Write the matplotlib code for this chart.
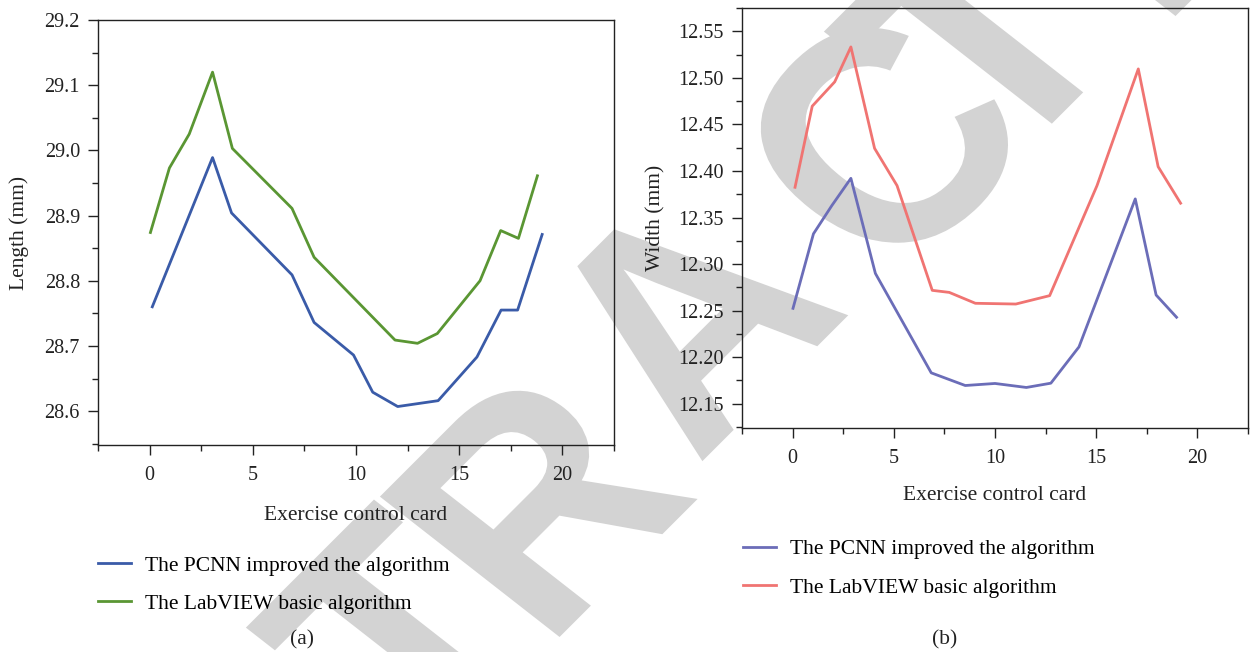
import matplotlib

matplotlib.use("Agg")
import numpy as np
import matplotlib.pyplot as plt
from matplotlib.patheffects import AbstractPathEffect
from matplotlib.ticker import MultipleLocator
from matplotlib.transforms import Affine2D

# (a) length
len_pcnn_x = [0.13, 3.05, 3.97, 6.9, 7.97, 9.88, 10.81, 12.02, 13.98, 15.86, 17.03, 17.83, 19.02]
len_pcnn_y = [28.760, 28.989, 28.904, 28.809, 28.736, 28.686, 28.629, 28.607, 28.616, 28.683, 28.755, 28.755, 28.871]
len_lab_x = [0.04, 0.96, 1.92, 3.05, 4.01, 6.9, 7.97, 11.89, 12.98, 13.94, 16.01, 17.01, 17.87, 18.79]
len_lab_y = [28.874, 28.973, 29.025, 29.120, 29.003, 28.911, 28.836, 28.709, 28.704, 28.719, 28.800, 28.877, 28.865, 28.961]

# (b) width
wid_pcnn_x = [0.02, 1.03, 1.94, 2.88, 4.09, 6.85, 8.53, 10.0, 11.55, 12.76, 14.15, 16.93, 17.96, 18.97]
wid_pcnn_y = [12.2525, 12.3325, 12.3629, 12.3921, 12.2900, 12.1832, 12.1696, 12.1718, 12.1675, 12.1721, 12.2111, 12.3700, 12.2668, 12.2429]
wid_lab_x = [0.12, 0.97, 2.08, 2.88, 4.05, 5.16, 6.9, 7.74, 9.03, 11.03, 12.7, 15.04, 17.08, 18.06, 19.17]
wid_lab_y = [12.3825, 12.4696, 12.4957, 12.5332, 12.4243, 12.3843, 12.2718, 12.2696, 12.2579, 12.2571, 12.2661, 12.3843, 12.5096, 12.4046, 12.3654]

labels = ["The PCNN improved the algorithm", "The LabVIEW basic algorithm"]

# watermark letters that show on the page, and where their middles sit (px from top-left)
mark_letters = ["T", "R", "A", "C", "T", "E"]
mark_centres = [(396, 631), (530, 500), (682, 315), (877, 137), (974, 35), (1140, -115)]

plt.rcParams["font.family"] = ["Liberation Serif", "DejaVu Serif"]

W, H = 1250, 652
fig = plt.figure(figsize=(W / 100, H / 100), dpi=100)


class Slant(AbstractPathEffect):
    """draw the glyphs through a 2x2 matrix about a display point"""

    def __init__(self, mat, x0, y0):
        super().__init__()
        self.mat, self.x0, self.y0 = mat, x0, y0

    def draw_path(self, renderer, gc, tpath, affine, rgbFace=None):
        (a, b), (c, d) = self.mat
        m = Affine2D(np.array([[a, b, 0.0], [c, d, 0.0], [0.0, 0.0, 1.0]]))
        extra = Affine2D().translate(-self.x0, -self.y0) + m + Affine2D().translate(self.x0, self.y0)
        renderer.draw_path(gc, tpath, affine + extra, rgbFace)


fs = 246
cap = 0.716 * fs * 100 / 72
au, av, su, sv = np.deg2rad(45), np.deg2rad(142), 0.9, 0.97
mat = [[su * np.cos(au), sv * np.cos(av)], [su * np.sin(au), sv * np.sin(av)]]
for ch, (cx, cy) in zip(mark_letters, mark_centres):
    ax0 = cx - mat[0][1] * cap / 2
    ay0 = (H - cy) - mat[1][1] * cap / 2
    fig.text(ax0 / W, ay0 / H, ch, fontsize=fs, fontweight="bold", family="Liberation Sans",
             color="#d3d3d3", ha="center", va="baseline", zorder=-5,
             path_effects=[Slant(mat, ax0, ay0)])

ax1 = fig.add_axes([0.0784, 0.3175, 0.4128, 0.6518])
ax2 = fig.add_axes([0.5936, 0.3436, 0.4048, 0.6441])


def style(ax, ylo, yhi, ymaj, ymin, ylabel, yfmt, xlpad, ylpad):
    ax.patch.set_alpha(0)
    ax.set_xlim(-2.5, 22.5)
    ax.set_ylim(ylo, yhi)
    ax.xaxis.set_major_locator(MultipleLocator(5))
    ax.xaxis.set_minor_locator(MultipleLocator(2.5))
    ax.yaxis.set_major_locator(MultipleLocator(ymaj))
    ax.yaxis.set_minor_locator(MultipleLocator(ymin))
    ax.yaxis.set_major_formatter(yfmt)
    ax.tick_params(which="major", direction="out", length=7, width=1, labelsize=14.5,
                   colors="#222222")
    ax.tick_params(axis="x", which="major", pad=8)
    ax.tick_params(axis="y", which="major", pad=6)
    ax.tick_params(which="minor", direction="out", length=4, width=1, colors="#222222")
    for s in ax.spines.values():
        s.set_linewidth(1.0)
        s.set_color("#222222")
    ax.set_xlabel("Exercise control card", fontsize=15.5, color="#222222", labelpad=xlpad)
    ax.set_ylabel(ylabel, fontsize=15.5, color="#222222", labelpad=ylpad)


l1, = ax1.plot(len_pcnn_x, len_pcnn_y, color="#3a5ba8", lw=2.0)
l2, = ax1.plot(len_lab_x, len_lab_y, color="#5a9633", lw=2.0)
style(ax1, 28.548, 29.2, 0.1, 0.05, "Length (mm)", "{x:.1f}", 15, 11)

r1, = ax2.plot(wid_pcnn_x, wid_pcnn_y, color="#6b6db8", lw=2.0)
r2, = ax2.plot(wid_lab_x, wid_lab_y, color="#f07472", lw=2.0)
style(ax2, 12.124, 12.575, 0.05, 0.025, "Width (mm)", "{x:.2f}", 13, 9)

leg_kw = dict(loc="upper left", frameon=False, fontsize=15.5, handlelength=1.55,
              handletextpad=0.65, labelspacing=0.85, borderpad=0, borderaxespad=0)
fig.legend([l1, l2], labels, bbox_to_anchor=(0.0784, 0.148), **leg_kw)
fig.legend([r1, r2], labels, bbox_to_anchor=(0.5944, 0.173), **leg_kw)

fig.text(0.2416, 0.012, "(a)", fontsize=15.5, ha="center", va="baseline", color="#222222")
fig.text(0.756, 0.012, "(b)", fontsize=15.5, ha="center", va="baseline", color="#222222")

fig.savefig("out.png", dpi=100)
